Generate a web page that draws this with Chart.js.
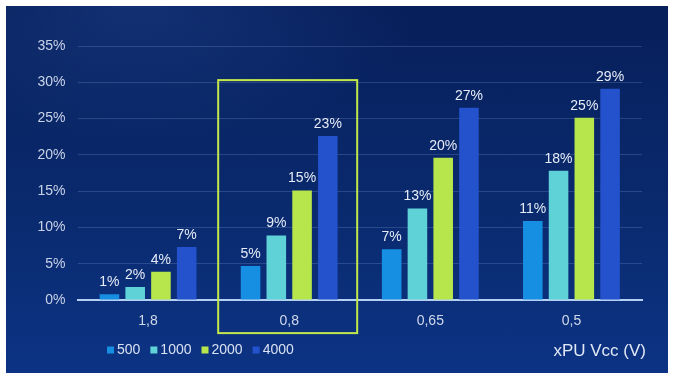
<!DOCTYPE html>
<html>
<head>
<meta charset="utf-8">
<script src="https://cdn.jsdelivr.net/npm/chart.js@4.4.1/dist/chart.umd.min.js"></script>
<style>
  html, body { margin: 0; padding: 0; background: #ffffff; }
  body { width: 677px; height: 381px; position: relative; overflow: hidden; }
  #wrap {
    position: absolute; left: 6px; top: 6px; width: 662px; height: 367px;
    background:
      radial-gradient(ellipse 60% 55% at 20% 0%, rgba(40,80,160,0.35), rgba(0,0,0,0) 70%),
      linear-gradient(180deg, #071f5a 0%, #0a2a6e 55%, #0c3384 100%);
  }
  canvas { display: block; }
</style>
</head>
<body>
<div id="wrap"><canvas id="c" width="662" height="367"></canvas></div>
<script>
// ---- data ----
const categories = ['1,8', '0,8', '0,65', '0,5'];
const seriesNames = ['500', '1000', '2000', '4000'];
const s500  = [0.8, 4.7, 7.0, 10.9];
const s1000 = [1.8, 8.9, 12.6, 17.8];
const s2000 = [3.9, 15.1, 19.6, 25.1];
const s4000 = [7.3, 22.6, 26.5, 29.1];
const yTicks = [0, 5, 10, 15, 20, 25, 30, 35];
const xAxisTitle = 'xPU Vcc (V)';
const highlightIndex = 1;

const seriesValues = [s500, s1000, s2000, s4000];
const seriesColors = ['#168fe2', '#5fd2d8', '#b6e64b', '#2452cc'];
const FONT = '"Liberation Sans", Arial, sans-serif';

const datasets = seriesNames.map((n, i) => ({
  label: n,
  data: seriesValues[i],
  backgroundColor: seriesColors[i],
  borderWidth: 0,
  categoryPercentage: 0.73,
  barPercentage: 0.76
}));

const valueLabels = {
  id: 'valueLabels',
  afterDatasetsDraw(chart) {
    const ctx = chart.ctx;
    ctx.save();
    ctx.font = '14px ' + FONT;
    ctx.fillStyle = '#e6ecf7';
    ctx.textAlign = 'center';
    ctx.textBaseline = 'bottom';
    chart.data.datasets.forEach((ds, di) => {
      chart.getDatasetMeta(di).data.forEach((bar, i) => {
        ctx.fillText(Math.round(ds.data[i]) + '%', bar.x, bar.y - 5);
      });
    });
    ctx.restore();
  }
};

const extras = {
  id: 'extras',
  afterDraw(chart) {
    const ctx = chart.ctx;
    const xs = chart.scales.x, ys = chart.scales.y;
    ctx.save();
    // highlight rectangle around one category
    const cx = xs.getPixelForValue(highlightIndex);
    const top = ys.getPixelForValue(30.3);
    ctx.strokeStyle = '#c3e84a';
    ctx.lineWidth = 2;
    ctx.strokeRect(cx - 71, top, 139, 253);
    // legend
    ctx.font = '14px ' + FONT;
    ctx.textBaseline = 'middle';
    ctx.textAlign = 'left';
    let x = 101;
    const y = 344;
    chart.data.datasets.forEach((ds) => {
      ctx.fillStyle = ds.backgroundColor;
      ctx.fillRect(x, y - 3.5, 7, 7);
      x += 10;
      ctx.fillStyle = '#d8e1f2';
      ctx.fillText(ds.label, x, y);
      x += ctx.measureText(ds.label).width + 10;
    });
    // axis title
    ctx.font = '17px ' + FONT;
    ctx.textAlign = 'right';
    ctx.fillStyle = '#e2e9f6';
    ctx.fillText(xAxisTitle, 640, 345);
    ctx.restore();
  }
};

new Chart(document.getElementById('c'), {
  type: 'bar',
  data: { labels: categories, datasets },
  options: {
    responsive: false,
    animation: false,
    layout: { padding: { top: 40, right: 26, left: 0, bottom: 0 } },
    plugins: { legend: { display: false }, tooltip: { enabled: false } },
    scales: {
      x: {
        grid: { display: false, drawTicks: false },
        border: { display: true, color: '#b4d0f2', width: 2 },
        ticks: { color: '#d0d9ea', font: { family: FONT, size: 14 }, padding: 13 },
        afterFit(s) { s.height = 73; }
      },
      y: {
        min: 0, max: 35,
        afterBuildTicks(s) { s.ticks = yTicks.map(v => ({ value: v })); },
        grid: { color: 'rgba(150,180,230,0.22)', lineWidth: 1, drawTicks: false },
        border: { display: false },
        ticks: {
          color: '#c9d3e8', font: { family: FONT, size: 14 }, padding: 12,
          callback: v => v + '%'
        },
        afterFit(s) { s.width = 71.5; }
      }
    }
  },
  plugins: [valueLabels, extras]
});
</script>
</body>
</html>
